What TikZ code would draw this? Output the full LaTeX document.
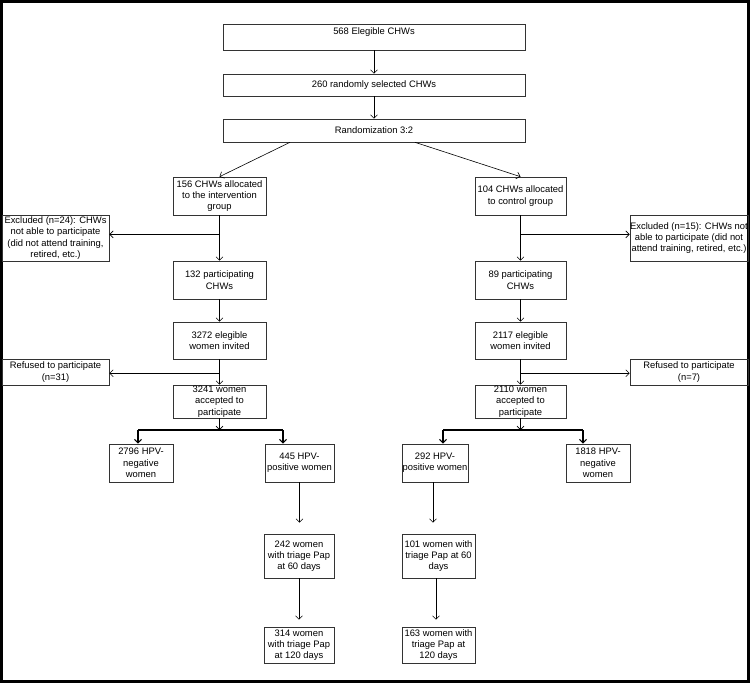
\documentclass[tikz,border=0pt]{standalone}
\usepackage{fontspec}
\setmainfont{Liberation Sans}
\usetikzlibrary{calc,arrows.meta}

\begin{document}
\begin{tikzpicture}[x=1pt,y=-1pt,semithick,>={Straight Barb[length=3.5pt 0 0,width=7pt 0 0]},
    every node/.style={draw=black!80, inner sep=0pt, align=center, font=\fontsize{9.4}{11.3}\selectfont},
    topbox/.style={minimum width=302, minimum height=23},
    armbox/.style={minimum width=93, minimum height=38},
    sidebox/.style={minimum width=107, minimum height=46},
    hpvbox/.style={minimum width=64, minimum height=38},
    papbox/.style={minimum width=70, minimum height=44}]
    \useasboundingbox (0,0) rectangle (750,683);
    \draw[line width=3pt] (1.5,1.5) rectangle (748.5,681.5);

    % common trunk
    \draw (374,37) node[topbox, minimum height=26] (elig) {568 Elegible CHWs\\ \mbox{}};
    \draw (374,85) node[topbox, minimum height=22] (sel) {260 randomly selected CHWs};
    \draw (374,130.5) node[topbox] (randz) {Randomization 3:2};

    % intervention arm
    \draw (219.5,196) node[armbox] (alloc_i) {156 CHWs allocated\\to the intervention\\group};
    \draw (55.5,238) node[sidebox] (excl_i) {Excluded (n=24): CHWs\\not able to participate\\(did not attend training,\\retired, etc.)};
    \draw (219.5,280) node[armbox] (part_i) {132 participating\\CHWs};
    \draw (219.5,340.5) node[armbox, minimum height=37] (inv_i) {3272 elegible\\women invited};
    \draw (55.5,372) node[sidebox, minimum height=26] (ref_i) {Refused to participate\\(n=31)};
    \draw (219.5,401.5) node[armbox, minimum height=33] (acc_i) {3241 women\\accepted to\\participate};
    \draw (141,463) node[hpvbox] (neg_i) {2796 HPV-\\negative\\women};
    \draw (299.5,463) node[hpvbox, minimum width=69] (pos_i) {445 HPV-\\positive women};
    \draw (299,556) node[papbox] (tri60_i) {242 women\\with triage Pap\\at 60 days};
    \draw (299,645) node[papbox, minimum height=36] (tri120_i) {314 women\\with triage Pap\\at 120 days};

    % control arm
    \draw (520.5,196) node[armbox, minimum width=91] (alloc_c) {104 CHWs allocated\\to control group};
    \draw (689,238) node[sidebox, minimum width=118] (excl_c) {Excluded (n=15): CHWs not\\able to participate (did not\\attend training, retired, etc.)};
    \draw (520.5,280) node[armbox, minimum width=91] (part_c) {89 participating\\CHWs};
    \draw (520.5,340.5) node[armbox, minimum width=91, minimum height=37] (inv_c) {2117 elegible\\women invited};
    \draw (689,372) node[sidebox, minimum width=118, minimum height=26] (ref_c) {Refused to participate\\(n=7)};
    \draw (520.5,401.5) node[armbox, minimum width=91, minimum height=33] (acc_c) {2110 women\\accepted to\\participate};
    \draw (435,463) node[hpvbox, minimum width=66] (pos_c) {292 HPV-\\positive women};
    \draw (598,463) node[hpvbox] (neg_c) {1818 HPV-\\negative\\women};
    \draw (438.5,556) node[papbox, minimum width=73] (tri60_c) {101 women with\\triage Pap at 60\\days};
    \draw (438.5,645) node[papbox, minimum width=73, minimum height=36] (tri120_c) {163 women with\\triage Pap at\\120 days};

    % split, bar and stop points
    \coordinate (cut_i) at ($(alloc_i.south)!0.42!(part_i.north)$);
    \coordinate (cut_c) at ($(alloc_c.south)!0.42!(part_c.north)$);
    \coordinate (drop_i) at ($(inv_i.south)!0.55!(acc_i.north)$);
    \coordinate (drop_c) at ($(inv_c.south)!0.55!(acc_c.north)$);
    \coordinate (barl_i) at (138,430);
    \coordinate (barr_i) at (283,430);
    \coordinate (barl_c) at (443,430);
    \coordinate (barr_c) at (583,430);
    \coordinate (stop60_i) at ([yshift=11pt]tri60_i.north);
    \coordinate (stop60_c) at ([yshift=11pt]tri60_c.north);
    \coordinate (stop120_i) at ([yshift=7pt]tri120_i.north);
    \coordinate (stop120_c) at ([yshift=7pt]tri120_c.north);

    \draw[->] (elig) -- (sel);
    \draw[->] (sel) -- (randz);
    \draw[->] ([xshift=-84pt]randz.south) -- (alloc_i.north);
    \draw[->] ([xshift=41pt]randz.south) -- (alloc_c.north);

    \draw[->] (alloc_i) -- (part_i);
    \draw[->] (cut_i) -- (cut_i -| excl_i.east);
    \draw[->] (part_i) -- (inv_i);
    \draw[->] (inv_i) -- (acc_i);
    \draw[->] (drop_i) -- (drop_i -| ref_i.east);
    \draw[->] (acc_i.south) -- (acc_i.south |- barl_i);
    \draw[line width=2pt] (barl_i) -- (barr_i);
    \draw[->, line width=1.2pt] (barl_i) -- (barl_i |- neg_i.north);
    \draw[->, line width=1.2pt] (barr_i) -- (barr_i |- pos_i.north);
    \draw[->] (pos_i.south) -- (pos_i.south |- stop60_i);
    \draw[->] (tri60_i.south) -- (tri60_i.south |- stop120_i);

    \draw[->] (alloc_c) -- (part_c);
    \draw[->] (cut_c) -- (cut_c -| excl_c.west);
    \draw[->] (part_c) -- (inv_c);
    \draw[->] (inv_c) -- (acc_c);
    \draw[->] (drop_c) -- (drop_c -| ref_c.west);
    \draw[->] (acc_c.south) -- (acc_c.south |- barl_c);
    \draw[line width=2pt] (barl_c) -- (barr_c);
    \draw[->, line width=1.2pt] (barl_c) -- (barl_c |- pos_c.north);
    \draw[->, line width=1.2pt] (barr_c) -- (barr_c |- neg_c.north);
    \draw[->] ([xshift=-2pt]pos_c.south) -- ([xshift=-2pt]pos_c.south |- stop60_c);
    \draw[->] ([xshift=-2.5pt]tri60_c.south) -- ([xshift=-2.5pt]tri60_c.south |- stop120_c);
\end{tikzpicture}
\end{document}
